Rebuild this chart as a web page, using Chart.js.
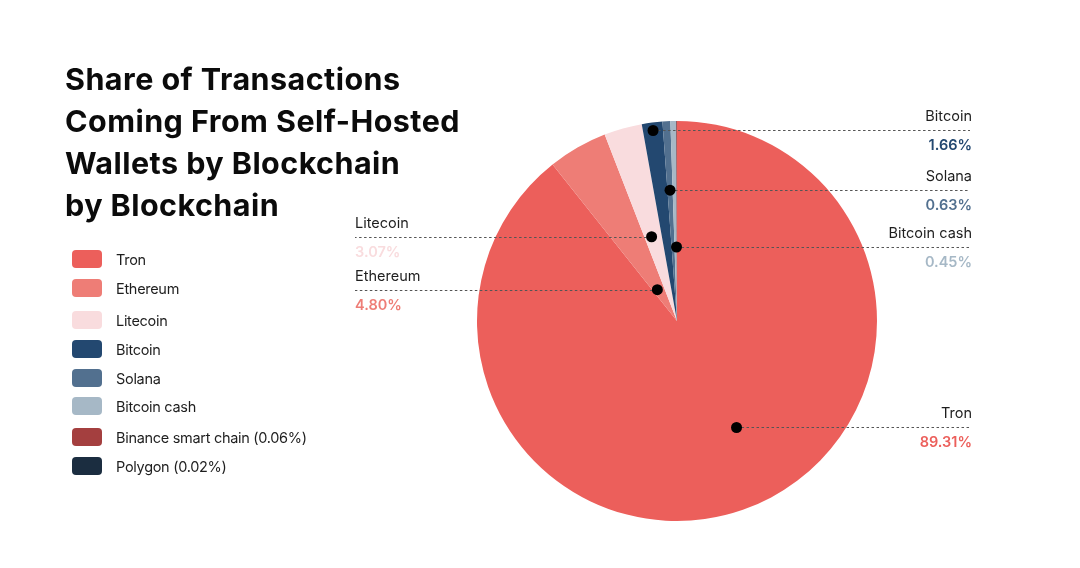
<!DOCTYPE html>
<html>
<head>
<meta charset="utf-8">
<script src="https://cdn.jsdelivr.net/npm/chart.js@4"></script>
<style>
  html, body { margin: 0; padding: 0; background: #fff; }
  #wrap { position: relative; width: 1080px; height: 568px; overflow: hidden; }
  #title { position: absolute; left: 65px; top: 58px; margin: 0; font-family: Inter, "Noto Sans", sans-serif;
    font-weight: 700; font-size: 30.5px; line-height: 42px; letter-spacing: 0.45px; color: #0b0b0b; }
  #legend { position: absolute; left: 72px; top: 0; font-family: Inter, "Noto Sans", sans-serif; }
  .item { position: absolute; left: 0; height: 18px; display: flex; align-items: center; white-space: nowrap; }
  .box { width: 30px; height: 18px; border-radius: 4px; margin-right: 14px; }
  .lab { font-size: 14.5px; color: #1e1e1e; letter-spacing: -0.3px; }
  canvas { position: absolute; left: 0; top: 0; }
</style>
</head>
<body>
<div id="wrap">
  <canvas id="c" width="1080" height="568"></canvas>
  <h1 id="title">Share of Transactions<br>Coming From Self-Hosted<br>Wallets by Blockchain<br>by Blockchain</h1>
  <div id="legend"></div>
</div>
<script>
const categories = ["Tron", "Ethereum", "Litecoin", "Bitcoin", "Solana", "Bitcoin cash", "Binance smart chain", "Polygon"];
const shares = [89.31, 4.80, 3.07, 1.66, 0.63, 0.45, 0.06, 0.02];
const colors = ["#EC5F5B", "#EE7D76", "#F9DCDE", "#234870", "#52708F", "#A6B8C6", "#A43F3F", "#1B2D40"];
const legendRowsY = [259, 288, 320, 349, 378, 406, 437, 466];
// callouts: index, side, radius fraction, angle fraction within slice
const calloutIdx = [0, 1, 2, 3, 4, 5];
const calloutSide = ["right", "left", "left", "right", "right", "right"];
const calloutRadius = [0.61, 0.185, 0.44, 0.96, 0.655, 0.37];
const calloutAngleFrac = [0.469, 0.37, 0.4, 0.5, 0.5, 0.95];

// legend (HTML)
const leg = document.getElementById('legend');
categories.forEach((c, i) => {
  const d = document.createElement('div');
  d.className = 'item';
  d.style.top = (legendRowsY[i] - 9) + 'px';
  const b = document.createElement('div');
  b.className = 'box'; b.style.background = colors[i];
  const t = document.createElement('span');
  t.className = 'lab';
  t.textContent = shares[i] < 0.1 ? c + ' (' + shares[i].toFixed(2) + '%)' : c;
  d.appendChild(b); d.appendChild(t); leg.appendChild(d);
});

const callouts = {
  id: 'callouts',
  afterDatasetsDraw(chart) {
    const ctx = chart.ctx;
    const meta = chart.getDatasetMeta(0);
    const rightX = 970, leftX = 355;
    calloutIdx.forEach((idx, k) => {
      const arc = meta.data[idx];
      const a = arc.startAngle + calloutAngleFrac[k] * (arc.endAngle - arc.startAngle);
      const r = calloutRadius[k] * arc.outerRadius;
      const px = arc.x + Math.cos(a) * r;
      const py = arc.y + Math.sin(a) * r;
      const side = calloutSide[k];
      const endX = side === 'right' ? rightX : leftX;
      ctx.save();
      ctx.strokeStyle = '#555';
      ctx.lineWidth = 1;
      ctx.setLineDash([2.5, 2.5]);
      ctx.beginPath();
      ctx.moveTo(px, Math.round(py) + 0.5);
      ctx.lineTo(endX, Math.round(py) + 0.5);
      ctx.stroke();
      ctx.setLineDash([]);
      ctx.fillStyle = '#000';
      ctx.beginPath();
      ctx.arc(px, py, 5.5, 0, Math.PI * 2);
      ctx.fill();
      ctx.textAlign = side === 'right' ? 'right' : 'left';
      ctx.textBaseline = 'alphabetic';
      ctx.font = '400 14.5px Inter, "Noto Sans", sans-serif';
      ctx.fillStyle = '#1e1e1e';
      const tx = side === 'right' ? rightX + 2 : leftX;
      ctx.fillText(categories[idx], tx, py - 9);
      ctx.font = '600 14.5px Inter, "Noto Sans", sans-serif';
      ctx.fillStyle = colors[idx];
      ctx.fillText(shares[idx].toFixed(2) + '%', tx, py + 20);
      ctx.restore();
    });
  }
};

new Chart(document.getElementById('c'), {
  type: 'pie',
  data: {
    labels: categories,
    datasets: [{ data: shares, backgroundColor: colors, borderWidth: 0 }]
  },
  options: {
    responsive: false,
    animation: false,
    layout: { padding: { left: 477, right: 203, top: 121, bottom: 47 } },
    plugins: { legend: { display: false }, tooltip: { enabled: false }, title: { display: false } }
  },
  plugins: [callouts]
});
</script>
</body>
</html>
